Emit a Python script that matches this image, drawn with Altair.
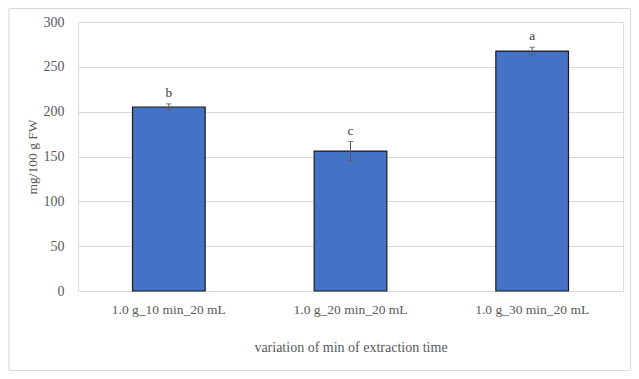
import altair as alt
import pandas as pd

categories = ["1.0 g_10 min_20 mL", "1.0 g_20 min_20 mL", "1.0 g_30 min_20 mL"]
values = [205.2, 156.1, 267.6]
errors = [3.5, 10.6, 4.2]
letters = ["b", "c", "a"]
y_ticks = [0, 50, 100, 150, 200, 250, 300]

df = pd.DataFrame({
    "cat": categories,
    "val": values,
    "lo": [v - e for v, e in zip(values, errors)],
    "hi": [v + e for v, e in zip(values, errors)],
    "letter": letters,
})

W, H = 545, 269
FONT = "Liberation Serif"

xenc = alt.X("cat:N", sort=categories,
             scale=alt.Scale(paddingInner=0.6, paddingOuter=0.3),
             axis=alt.Axis(title="variation of min of extraction time", labelAngle=0,
                           labelPadding=11, titlePadding=25, ticks=False,
                           domainColor="#d9d9d9", labelColor="#595959",
                           titleColor="#595959", labelFontSize=13.5, titleFontSize=14,
                           labelFont=FONT, titleFont=FONT, titleFontWeight="normal"))
yscale = alt.Scale(domain=[0, 300], nice=False)

base = alt.Chart(df)

bars = base.mark_bar(color="#4472C4", stroke="#1a1a1a", strokeWidth=1.2).encode(
    x=xenc,
    y=alt.Y("val:Q", scale=yscale,
            axis=alt.Axis(title="mg/100 g FW", values=y_ticks, grid=True,
                          gridColor="#d9d9d9", domain=False, ticks=False,
                          labelPadding=14, titlePadding=4,
                          labelColor="#595959", titleColor="#595959",
                          labelFontSize=14, titleFontSize=13.5,
                          labelFont=FONT, titleFont=FONT, titleFontWeight="normal")),
)

rules = base.mark_rule(color="#595959", strokeWidth=1).encode(
    x=alt.X("cat:N", sort=categories),
    y=alt.Y("lo:Q", scale=yscale),
    y2="hi:Q",
)
caps_hi = base.mark_tick(color="#595959", size=6, thickness=1, orient="horizontal").encode(
    x=alt.X("cat:N", sort=categories), y=alt.Y("hi:Q", scale=yscale))
caps_lo = base.mark_tick(color="#595959", size=6, thickness=1, orient="horizontal").encode(
    x=alt.X("cat:N", sort=categories), y=alt.Y("lo:Q", scale=yscale))

labels = base.mark_text(dy=-11, font=FONT, fontSize=13.5, color="#404040").encode(
    x=alt.X("cat:N", sort=categories),
    y=alt.Y("hi:Q", scale=yscale),
    text="letter:N",
)

border = alt.Chart(pd.DataFrame({"a": [0]})).mark_rect(
    fill=None, stroke="#d9d9d9", strokeWidth=1, clip=False).encode(
    x=alt.value(-69), x2=alt.value(W + 7.5), y=alt.value(-13.5), y2=alt.value(H + 79.5))

chart = alt.layer(border, bars, rules, caps_hi, caps_lo, labels).properties(
    width=W, height=H,
    autosize=alt.AutoSizeParams(type="none"),
    padding={"left": 70, "top": 14, "right": 8, "bottom": 80},
).configure_view(stroke=None).configure(background="white")

chart.save("out.html", embed_options={"renderer": "svg", "actions": False})
